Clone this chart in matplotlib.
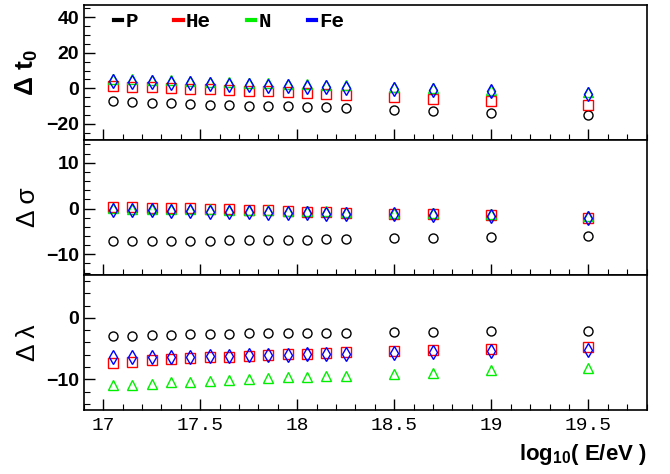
import matplotlib
matplotlib.use("Agg")
import matplotlib.pyplot as plt
from matplotlib.lines import Line2D
from matplotlib.ticker import MultipleLocator

plt.rcParams["mathtext.fontset"] = "custom"
plt.rcParams["mathtext.rm"] = "Liberation Sans"
plt.rcParams["mathtext.bf"] = "Liberation Sans:bold"
plt.rcParams["mathtext.it"] = "Liberation Sans"

energy = [17.05, 17.15, 17.25, 17.35, 17.45, 17.55, 17.65, 17.75, 17.85,
          17.95, 18.05, 18.15, 18.25, 18.5, 18.7, 19.0, 19.5]

# delta t0
t0_p = [-7.2, -7.5, -8.1, -8.5, -8.9, -9.2, -9.4, -9.8, -10.2, -10.2, -10.6,
        -10.8, -11.1, -12.1, -12.6, -13.8, -15.3]
t0_he = [1.3, 0.9, 0.6, 0.2, -0.2, -0.6, -0.8, -1.3, -1.7, -2.1, -2.6, -3.2,
         -3.8, -5.1, -6.0, -7.0, -9.2]
t0_n = [5.5, 5.2, 4.9, 4.5, 4.2, 3.8, 3.5, 3.2, 2.9, 2.6, 2.3, 2.0, 1.7, 0.9,
        0.2, -0.8, -2.3]
t0_fe = [4.0, 3.6, 3.4, 3.0, 2.8, 2.5, 2.1, 1.9, 1.5, 1.3, 0.9, 0.8, 0.4,
         -0.2, -0.9, -1.5, -3.0]

# delta sigma
sg_p = [-7.2, -7.1, -7.1, -7.1, -7.1, -7.0, -6.9, -6.8, -6.8, -6.8, -6.8,
        -6.7, -6.7, -6.5, -6.5, -6.3, -6.1]
sg_he = [0.4, 0.3, 0.2, 0.1, 0.1, -0.1, -0.2, -0.3, -0.4, -0.5, -0.7, -0.7,
         -0.9, -1.1, -1.3, -1.5, -2.0]
sg_n = [0.1, 0.0, -0.1, -0.1, -0.2, -0.2, -0.3, -0.4, -0.4, -0.5, -0.6, -0.6,
        -0.7, -0.9, -1.0, -1.3, -1.6]
sg_fe = [-0.3, -0.4, -0.4, -0.5, -0.6, -0.7, -0.7, -0.8, -0.9, -1.0, -1.0,
         -1.1, -1.2, -1.3, -1.4, -1.6, -2.0]

# delta lambda
lm_p = [-3.0, -2.9, -2.8, -2.8, -2.7, -2.6, -2.6, -2.5, -2.5, -2.4, -2.4,
        -2.4, -2.4, -2.3, -2.3, -2.2, -2.2]
lm_he = [-7.3, -7.1, -6.9, -6.7, -6.5, -6.4, -6.3, -6.2, -6.1, -5.9, -5.8,
         -5.7, -5.6, -5.4, -5.2, -5.0, -4.8]
lm_n = [-11.0, -10.9, -10.7, -10.5, -10.4, -10.2, -10.1, -9.9, -9.8, -9.7,
        -9.6, -9.5, -9.5, -9.2, -9.0, -8.5, -8.1]
lm_fe = [-6.4, -6.4, -6.4, -6.3, -6.3, -6.2, -6.2, -6.1, -6.1, -6.0, -5.9,
         -5.9, -5.8, -5.7, -5.6, -5.4, -5.2]

species = ["P", "He", "N", "Fe"]
colors = ["black", "red", "#00ee00", "blue"]
markers = ["o", "s", "^", "d"]
msizes = [6.5, 6.5, 7, 7.5]

panels = [
    (r"$\mathbf{\Delta\ t_0}$", [t0_p, t0_he, t0_n, t0_fe], (-29, 47), 20, 5),
    ("Δ σ", [sg_p, sg_he, sg_n, sg_fe], (-14.5, 15), 10, 2),
    ("Δ λ", [lm_p, lm_he, lm_n, lm_fe], (-15, 7), 10, 2),
]

fig = plt.figure(figsize=(6.7, 4.74), dpi=100)
left, right = 0.125, 0.965
top, bottom = 0.990, 0.135
h = (top - bottom) / 3

axes = []
for i, (label, series, ylim, major, minor) in enumerate(panels):
    ax = fig.add_axes([left, top - (i + 1) * h, right - left, h])
    axes.append(ax)
    for vals, c, m, ms in zip(series, colors, markers, msizes):
        ax.plot(energy, vals, linestyle="none", marker=m, markersize=ms,
                markerfacecolor="none", markeredgecolor=c, markeredgewidth=1.0)
    ax.set_xlim(16.9, 19.8)
    ax.set_ylim(*ylim)
    ax.yaxis.set_major_locator(MultipleLocator(major))
    ax.yaxis.set_minor_locator(MultipleLocator(minor))
    ax.xaxis.set_major_locator(MultipleLocator(0.5))
    ax.xaxis.set_minor_locator(MultipleLocator(0.1))
    ax.tick_params(which="both", direction="in", top=False, right=False)
    ax.tick_params(which="major", length=8, width=1)
    ax.tick_params(which="minor", length=4, width=0.8)
    for lab in ax.get_yticklabels():
        lab.set_fontfamily("Liberation Sans")
        lab.set_fontweight("bold")
        lab.set_fontsize(14)
    ax.set_ylabel(label, fontsize=19, fontfamily=["Liberation Sans", "DejaVu Sans"],
                  labelpad=4)
    for s in ax.spines.values():
        s.set_linewidth(1.2)
    if i < 2:
        ax.tick_params(labelbottom=False)

axes[2].set_xticks([17, 17.5, 18, 18.5, 19, 19.5])
axes[2].set_xticklabels(["17", "17.5", "18", "18.5", "19", "19.5"],
                        fontfamily="Liberation Mono", fontsize=14)
axes[2].tick_params(axis="x", pad=5)
axes[2].set_xlabel(r"$\mathbf{log_{10}}$( E/eV )", fontsize=16,
                   fontfamily="Liberation Sans", fontweight="bold")
axes[2].xaxis.set_label_coords(1.0, -0.24)
axes[2].xaxis.label.set_horizontalalignment("right")

handles = [Line2D([0], [0], color=c, lw=3) for c in colors]
leg = axes[0].legend(handles, species, loc="upper left", ncol=4,
                     frameon=False, handlelength=0.4, handletextpad=0.15,
                     columnspacing=1.75, bbox_to_anchor=(0.02, 1.085),
                     prop={"family": "Liberation Mono", "weight": "bold",
                           "size": 15})

fig.savefig("out.png", dpi=100)
